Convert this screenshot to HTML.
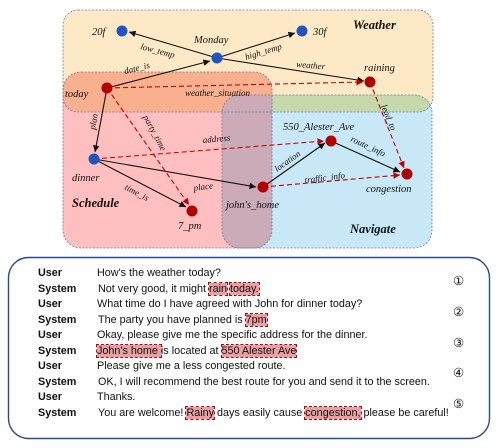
<!DOCTYPE html>
<html><head><meta charset="utf-8"><style>
html,body{margin:0;padding:0;background:#fff;width:500px;height:448px;overflow:hidden;position:relative}
svg{position:absolute;left:0;top:0}
svg text{font-family:"Liberation Serif",serif}
.lb{font-style:italic;font-size:10.5px;fill:#111}
.et{font-style:italic;font-size:9px;fill:#111}
.ti{font-style:italic;font-weight:bold;font-size:12.5px;fill:#111}
#dlg{position:absolute;left:0;top:266px;width:500px;font-family:"Liberation Sans",sans-serif;font-size:10.8px;color:#111}
.row{position:absolute;height:15px;line-height:15px;white-space:nowrap}
.sp{position:absolute;left:38px;font-weight:bold}
.tx{position:absolute;left:97px}
.hl{background:#e8a0a4;outline:1px dashed #c00000;outline-offset:0}
.num{position:absolute;left:453px;font-size:12.5px}
</style></head><body>
<svg width="500" height="448" viewBox="0 0 500 448">
<defs>
<clipPath id="cw"><rect x="63" y="10" width="370" height="102" rx="15"/></clipPath>
<clipPath id="cs"><rect x="63" y="72" width="209" height="176" rx="18"/></clipPath>
<marker id="ab" markerWidth="7" markerHeight="7" refX="6" refY="3" orient="auto"><path d="M0,0 L6,3 L0,6 z" fill="#111"/></marker>
<marker id="ar" markerWidth="7" markerHeight="7" refX="6" refY="3" orient="auto"><path d="M0,0 L6,3 L0,6 z" fill="#c00000"/></marker>
</defs>
<g>
<rect x="63" y="10" width="370" height="102" rx="15" fill="#fde9c5"/>
<rect x="63" y="72" width="209" height="176" rx="18" fill="#ffbfc0"/>
<rect x="222" y="95" width="210" height="153" rx="18" fill="#c8e8f8"/>
<rect x="63" y="72" width="209" height="176" rx="18" fill="#f8b08f" clip-path="url(#cw)"/>
<rect x="222" y="95" width="210" height="153" rx="18" fill="#c5d9ad" clip-path="url(#cw)"/>
<rect x="222" y="95" width="210" height="153" rx="18" fill="#cbabb7" clip-path="url(#cs)"/>
<g fill="none" stroke="#6b7a9a" stroke-width="0.8" stroke-dasharray="2,1.5">
<rect x="63" y="10" width="370" height="102" rx="15"/>
<rect x="63" y="72" width="209" height="176" rx="18"/>
<rect x="222" y="95" width="210" height="153" rx="18"/>
</g>
<text class="ti" x="353" y="29">Weather</text>
<text class="ti" x="72" y="207">Schedule</text>
<text class="ti" x="350" y="233">Navigate</text>
</g>
<g stroke-width="1.1" fill="none">
<g stroke="#111" marker-end="url(#ab)">
<line x1="217" y1="58" x2="129" y2="32"/>
<line x1="217" y1="58" x2="295" y2="33"/>
<line x1="217" y1="58" x2="364" y2="81"/>
<line x1="107" y1="88" x2="210" y2="61"/>
<line x1="107" y1="88" x2="95" y2="152"/>
<line x1="94" y1="159" x2="186" y2="207"/>
<line x1="94" y1="159" x2="256" y2="187"/>
<line x1="263" y1="187" x2="325" y2="143"/>
<line x1="331" y1="141" x2="400" y2="172"/>
</g>
<g stroke="#c00000" stroke-dasharray="5,3" marker-end="url(#ar)">
<line x1="107" y1="88" x2="363" y2="82"/>
<line x1="107" y1="88" x2="189" y2="205"/>
<line x1="94" y1="159" x2="324" y2="141"/>
<line x1="370" y1="82" x2="404" y2="168"/>
<line x1="263" y1="187" x2="400" y2="175"/>
</g>
</g>
<g>
<text class="et" x="140" y="49" transform="rotate(15 140 49)">low_temp</text>
<text class="et" x="246" y="60" transform="rotate(-17 246 60)">high_temp</text>
<text class="et" x="296" y="67" transform="rotate(5 296 67)">weather</text>
<text class="et" x="125" y="74" transform="rotate(-14 125 74)">date_is</text>
<text class="et" x="185" y="96">weather_situation</text>
<text class="et" x="95" y="130" transform="rotate(-80 95 130)">plan</text>
<text class="et" x="143" y="117" transform="rotate(62 143 117)">party_time</text>
<text class="et" x="203" y="143" transform="rotate(-5 203 143)">address</text>
<text class="et" x="124" y="189" transform="rotate(28 124 189)">time_is</text>
<text class="et" x="194" y="191" transform="rotate(-8 194 191)">place</text>
<text class="et" x="277" y="172" transform="rotate(-35 277 172)">location</text>
<text class="et" x="350" y="141" transform="rotate(25 350 141)">route_info</text>
<text class="et" x="305" y="183" transform="rotate(-7 305 183)">traffic_info</text>
<text class="et" x="381" y="106" transform="rotate(68 381 106)">lead_to</text>
</g>
<g>
<circle cx="122" cy="31" r="5.5" fill="#2255bb"/>
<circle cx="302" cy="31" r="5.5" fill="#2255bb"/>
<circle cx="217" cy="58" r="5.5" fill="#2255bb"/>
<circle cx="94" cy="159" r="5.5" fill="#2255bb"/>
<circle cx="370" cy="82" r="5.5" fill="#b00000"/>
<circle cx="107" cy="88" r="5.5" fill="#b00000"/>
<circle cx="192" cy="211" r="5.5" fill="#b00000"/>
<circle cx="263" cy="187" r="5.5" fill="#b00000"/>
<circle cx="331" cy="141" r="5.5" fill="#b00000"/>
<circle cx="407" cy="174" r="5.5" fill="#b00000"/>
<text class="lb" x="92" y="35">20f</text>
<text class="lb" x="313" y="35">30f</text>
<text class="lb" x="194" y="43">Monday</text>
<text class="lb" x="364" y="71">raining</text>
<text class="lb" x="65" y="97">today</text>
<text class="lb" x="72" y="181">dinner</text>
<text class="lb" x="178" y="229">7_pm</text>
<text class="lb" x="226" y="208">john's_home</text>
<text class="lb" x="283" y="130">550_Alester_Ave</text>
<text class="lb" x="366" y="192">congestion</text>
</g>
<rect x="8.5" y="257.5" width="481" height="181" rx="20" fill="#fff" stroke="#2a4a8a" stroke-width="1.4"/>
</svg>
<div id="dlg">
<div class="row" style="top:0px"><span class="sp">User</span><span class="tx">How's the weather today?</span></div>
<div class="row" style="top:15.5px"><span class="sp">System</span><span class="tx" style="left:98px">Not very good, it might <span class="hl">rain</span> <span class="hl">today.</span></span></div>
<div class="row" style="top:31px"><span class="sp">User</span><span class="tx">What time do I have agreed with John for dinner today?</span></div>
<div class="row" style="top:46.5px"><span class="sp">System</span><span class="tx" style="left:98px">The party you have planned is <span class="hl">7pm</span></span></div>
<div class="row" style="top:62px"><span class="sp">User</span><span class="tx">Okay, please give me the specific address for the dinner.</span></div>
<div class="row" style="top:77.5px"><span class="sp">System</span><span class="tx"><span class="hl">John's home </span> is located at <span class="hl">550 Alester Ave</span></span></div>
<div class="row" style="top:93px"><span class="sp">User</span><span class="tx">Please give me a less congested route.</span></div>
<div class="row" style="top:108.5px"><span class="sp">System</span><span class="tx" style="left:98px">OK, I will recommend the best route for you and send it to the screen.</span></div>
<div class="row" style="top:124px"><span class="sp">User</span><span class="tx">Thanks.</span></div>
<div class="row" style="top:139.5px"><span class="sp">System</span><span class="tx" style="left:98px">You are welcome! <span class="hl">Rainy</span> days easily cause <span class="hl">congestion,</span> please be careful!</span></div>
<div class="num" style="top:7px">①</div>
<div class="num" style="top:38px">②</div>
<div class="num" style="top:69px">③</div>
<div class="num" style="top:99px">④</div>
<div class="num" style="top:130px">⑤</div>
</div>
</body></html>
